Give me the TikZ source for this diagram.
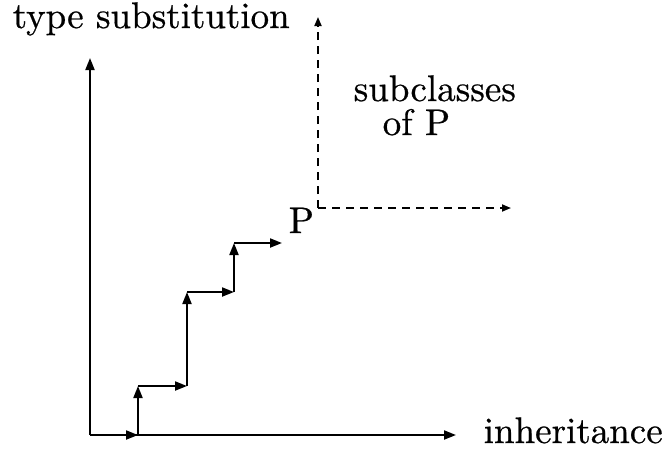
\documentclass[tikz,border=0pt]{standalone}
\usepackage{fontspec}
\newfontfamily\heavyrm{lmroman10-regular.otf}[FakeBold=0.6]
\usetikzlibrary{arrows.meta}
\begin{document}
\begin{tikzpicture}[x=1pt,y=-1pt,
  axis/.style={line width=2pt,-{Triangle[length=12pt,width=9pt]}},
  stair/.style={line width=2pt,-{Triangle[length=12pt,width=9pt]}},
  dashax/.style={line width=1.7pt,dash pattern=on 8pt off 6pt,-{Triangle[length=9pt,width=7pt]}},
  lbl/.style={inner sep=0pt,anchor=base west,scale=3.7,font=\heavyrm\fontsize{10}{12}\selectfont}]
\useasboundingbox (0,0) rectangle (669,448);
% axes
\coordinate (O) at (90,435);
\coordinate (Ytop) at (90,58);
\coordinate (Xend) at (456,435);
\draw[axis] (O) -- (Ytop);
\draw[axis] (O) -- (Xend);
\node[lbl] (ylab) at (12,28) {type substitution};
\node[lbl] (xlab) at (483,443) {inheritance};
% staircase
\coordinate (s1) at (138,435);
\coordinate (s2) at (138,386);
\coordinate (s3) at (187,386);
\coordinate (s4) at (187,292);
\coordinate (s5) at (234,292);
\coordinate (s6) at (234,243);
\coordinate (s7) at (282,243);
\draw[stair] (O) -- (s1);
\draw[stair] (s1) -- (s2);
\draw[stair] (s2) -- (s3);
\draw[stair] (s3) -- (s4);
\draw[stair] (s4) -- (s5);
\draw[stair] (s5) -- (s6);
\draw[stair] (s6) -- (s7);
% P and subclasses
\node[lbl] (P) at (288,233) {P};
\coordinate (C) at (318,208);
\coordinate (Ctop) at (318,17);
\coordinate (Cright) at (511,208);
\draw[dashax] (C) -- (Ctop);
\draw[dashax] (C) -- (Cright);
\node[lbl] (sub) at (353,101) {subclasses};
\node[lbl] (ofp) at (382,135) {of P};
\end{tikzpicture}
\end{document}
